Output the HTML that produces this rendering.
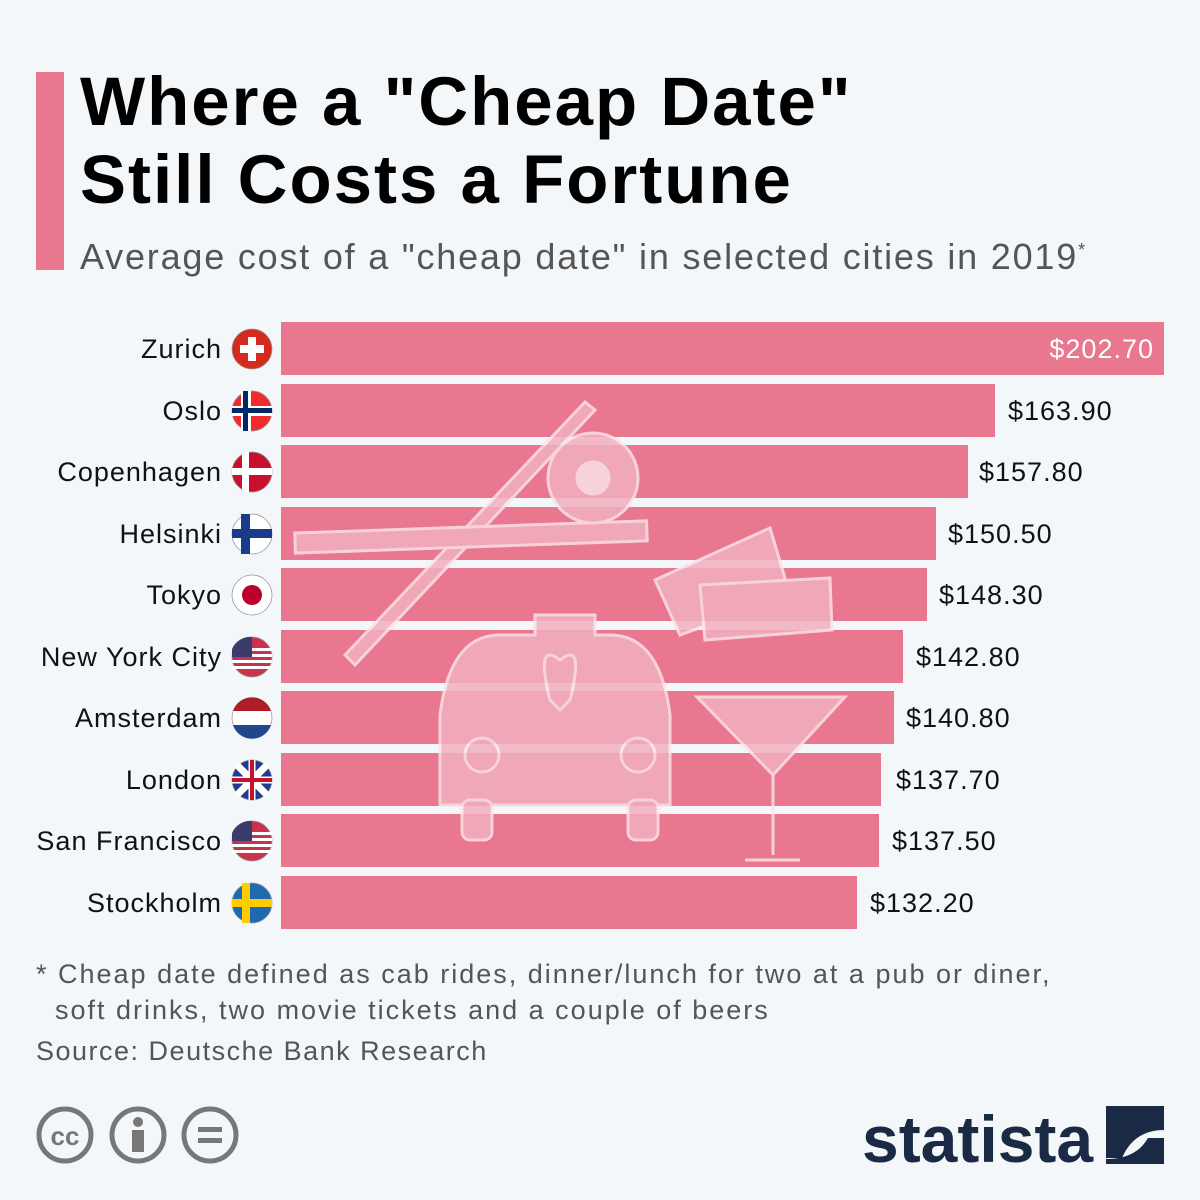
<!DOCTYPE html>
<html><head><style>
body{margin:0;width:1200px;height:1200px;background:#f4f7fa;font-family:"Liberation Sans",sans-serif;position:relative;overflow:hidden}
.abs{position:absolute}
.t{left:80px;font-weight:bold;font-size:69px;letter-spacing:2px;color:#000;line-height:1;white-space:nowrap}
.lbl{right:978px;font-size:27px;letter-spacing:1px;color:#111;text-align:right;white-space:nowrap;line-height:1}
.val{font-size:27px;letter-spacing:1px;color:#111;white-space:nowrap;line-height:1}
.bar{left:281px;height:53px;background:#e8778f}
</style></head><body>
<div class="abs" style="left:36px;top:72px;width:28px;height:198px;background:#e8778f"></div>
<div class="abs t" style="top:67px">Where a "Cheap Date"</div>
<div class="abs t" style="top:145px">Still Costs a Fortune</div>
<div class="abs" style="left:80px;top:236px;font-size:36px;letter-spacing:1.8px;color:#555;white-space:nowrap">Average cost of a "cheap date" in selected cities in 2019<sup style="font-size:18px">*</sup></div>

<div class="abs bar" style="top:322px;width:883px"></div>
<div class="abs bar" style="top:384px;width:714px"></div>
<div class="abs bar" style="top:445px;width:687px"></div>
<div class="abs bar" style="top:507px;width:655px"></div>
<div class="abs bar" style="top:568px;width:646px"></div>
<div class="abs bar" style="top:630px;width:622px"></div>
<div class="abs bar" style="top:691px;width:613px"></div>
<div class="abs bar" style="top:753px;width:600px"></div>
<div class="abs bar" style="top:814px;width:598px"></div>
<div class="abs bar" style="top:876px;width:576px"></div>

<svg class="abs" style="left:0;top:0" width="1200" height="1200">
<g fill="#f2b0be" stroke="#fbe3e8" stroke-width="3" opacity="0.85">
<polygon points="345,655 585,402 595,410 355,665"/>
<rect x="295" y="527" width="352" height="20" transform="rotate(-2 470 537)"/>
<circle cx="593" cy="478" r="45"/><circle cx="593" cy="478" r="16" fill="#fbe3e8"/>
<polygon points="655,580 770,528 790,595 680,635"/>
<polygon points="700,585 830,578 832,630 705,640"/>
<path d="M535,615 h60 v20 h15 q50,0 60,80 v90 h-230 v-90 q10,-80 60,-80 h35z"/>
<rect x="462" y="800" width="30" height="40" rx="8"/><rect x="628" y="800" width="30" height="40" rx="8"/>
<circle cx="482" cy="755" r="17"/><circle cx="638" cy="755" r="17"/>
<path d="M560,660 q-25,-20 -10,40 l10,10 l10,-10 q15,-60 -10,-40z"/>
<polygon points="697,697 845,697 773,775"/>
<line x1="773" y1="775" x2="773" y2="855"/><line x1="745" y1="860" x2="800" y2="860"/>
</g>
<g stroke="#999" stroke-width="0.8">
<circle cx="252" cy="349" r="20" fill="#d52b1e"/>
<circle cx="252" cy="411" r="20" fill="#ef2b2d"/>
<circle cx="252" cy="472" r="20" fill="#c8102e"/>
<circle cx="252" cy="534" r="20" fill="#fff"/>
<circle cx="252" cy="595" r="20" fill="#fff"/>
<circle cx="252" cy="657" r="20" fill="#c8334b"/>
<circle cx="252" cy="718" r="20" fill="#fff"/>
<circle cx="252" cy="780" r="20" fill="#1e3c8c"/>
<circle cx="252" cy="841" r="20" fill="#c8334b"/>
<circle cx="252" cy="903" r="20" fill="#1f69b0"/>
</g>
<rect x="240" y="345" width="24" height="8" fill="#fff"/><rect x="248" y="337" width="8" height="24" fill="#fff"/>
<rect x="232" y="406" width="40" height="10" fill="#fff"/><rect x="241" y="391" width="10" height="40" fill="#fff"/>
<rect x="232" y="408" width="40" height="5" fill="#002868"/><rect x="243" y="391" width="5" height="40" fill="#002868"/>
<rect x="232" y="468" width="40" height="7" fill="#fff"/><rect x="242" y="452" width="7" height="40" fill="#fff"/>
<rect x="232" y="529" width="40" height="9" fill="#1a3b8c"/><rect x="241" y="514" width="9" height="40" fill="#1a3b8c"/>
<circle cx="252" cy="595" r="10" fill="#bc002d"/>
<path d="M233,711 h38 v-0 a20,20 0 0 0 -38,0z" fill="#ad1d28"/><path d="M233,725 h38 a20,20 0 0 1 -38,0z" fill="#21468b"/>
<g fill="#fff"><rect x="232" y="648" width="40" height="3"/><rect x="232" y="654" width="40" height="3"/><rect x="232" y="660" width="40" height="3"/><rect x="232" y="666" width="40" height="3"/>
<rect x="232" y="832" width="40" height="3"/><rect x="232" y="838" width="40" height="3"/><rect x="232" y="844" width="40" height="3"/><rect x="232" y="850" width="40" height="3"/></g>
<path d="M232,657 v-8 a20,20 0 0 1 20,-12 v20z" fill="#3c3b6e"/><path d="M232,841 v-8 a20,20 0 0 1 20,-12 v20z" fill="#3c3b6e"/>
<g stroke="#fff" stroke-width="7"><line x1="237" y1="765" x2="267" y2="795"/><line x1="267" y1="765" x2="237" y2="795"/><line x1="232" y1="780" x2="272" y2="780"/><line x1="252" y1="760" x2="252" y2="800"/></g>
<g stroke="#c8102e" stroke-width="4"><line x1="232" y1="780" x2="272" y2="780"/><line x1="252" y1="760" x2="252" y2="800"/></g>
<rect x="232" y="899" width="40" height="8" fill="#fecc00"/><rect x="242" y="883" width="8" height="40" fill="#fecc00"/>
</svg>

<div class="abs lbl" style="top:336px">Zurich</div>
<div class="abs lbl" style="top:398px">Oslo</div>
<div class="abs lbl" style="top:459px">Copenhagen</div>
<div class="abs lbl" style="top:521px">Helsinki</div>
<div class="abs lbl" style="top:582px">Tokyo</div>
<div class="abs lbl" style="top:644px">New York City</div>
<div class="abs lbl" style="top:705px">Amsterdam</div>
<div class="abs lbl" style="top:767px">London</div>
<div class="abs lbl" style="top:828px">San Francisco</div>
<div class="abs lbl" style="top:890px">Stockholm</div>

<div class="abs val" style="top:336px;right:46px;color:#fff">$202.70</div>
<div class="abs val" style="top:398px;left:1008px">$163.90</div>
<div class="abs val" style="top:459px;left:979px">$157.80</div>
<div class="abs val" style="top:521px;left:948px">$150.50</div>
<div class="abs val" style="top:582px;left:939px">$148.30</div>
<div class="abs val" style="top:644px;left:916px">$142.80</div>
<div class="abs val" style="top:705px;left:906px">$140.80</div>
<div class="abs val" style="top:767px;left:896px">$137.70</div>
<div class="abs val" style="top:828px;left:892px">$137.50</div>
<div class="abs val" style="top:890px;left:870px">$132.20</div>

<div class="abs" style="left:36px;top:956px;font-size:27px;letter-spacing:2px;color:#555;line-height:36px;white-space:nowrap">* Cheap date defined as cab rides, dinner/lunch for two at a pub or diner,<br>&nbsp;&nbsp;soft drinks, two movie tickets and a couple of beers</div>
<div class="abs" style="left:36px;top:1036px;font-size:27px;letter-spacing:1.5px;color:#555;white-space:nowrap">Source: Deutsche Bank Research</div>

<svg class="abs" style="left:0;top:1100px" width="1200" height="100">
<g fill="none" stroke="#777" stroke-width="5"><circle cx="65" cy="35" r="26"/><circle cx="138" cy="35" r="26"/><circle cx="210" cy="35" r="26"/></g>
<text x="65" y="45" font-size="26" font-weight="bold" fill="#777" text-anchor="middle" font-family="Liberation Sans">cc</text>
<circle cx="138" cy="22" r="5" fill="#777"/><rect x="132" y="30" width="12" height="22" fill="#777"/>
<rect x="198" y="27" width="24" height="5" fill="#777"/><rect x="198" y="38" width="24" height="5" fill="#777"/>
<text x="862" y="62" font-size="66" font-weight="bold" fill="#1a2a45" font-family="Liberation Sans">statista</text>
<path d="M1106,6 h58 v24 q-30,0 -42,28 h-16z M1164,38 v26 h-58 v-5 q30,0 42,-21z" fill="#1a2a45"/>
</svg>
</body></html>
